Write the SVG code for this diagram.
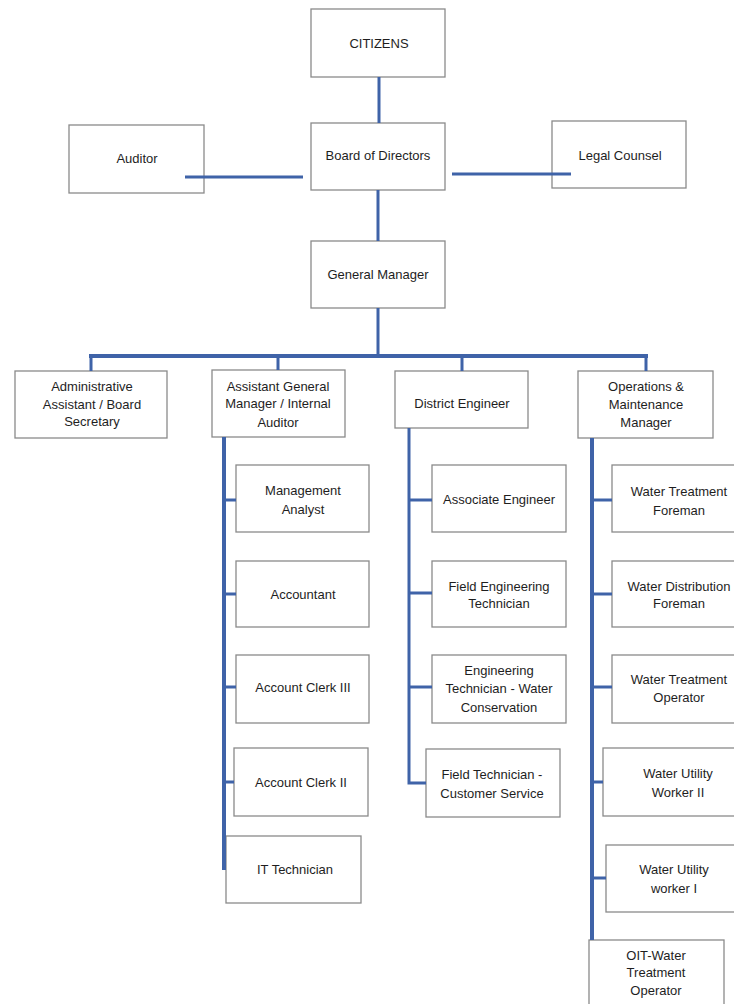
<svg xmlns="http://www.w3.org/2000/svg" width="734" height="1004" viewBox="0 0 734 1004">
<style>
.box{fill:#ffffff;stroke:#8a8a8a;stroke-width:1.3}
.t{font-family:"Liberation Sans",Arial,sans-serif;font-size:13px;fill:#1e1e1e;text-anchor:middle}
.ln{stroke:#3f63a8;stroke-width:3;fill:none}
.bus{stroke:#3f63a8;stroke-width:4;fill:none}
</style>
<rect width="734" height="1004" fill="#ffffff"/>
<g id="citizens"><rect class="box" x="311" y="9" width="134" height="68"/><text class="t" x="379" y="48">CITIZENS</text></g>
<g id="board"><rect class="box" x="311" y="123" width="134" height="67"/><text class="t" x="378" y="160">Board of Directors</text></g>
<g id="auditor"><rect class="box" x="69" y="125" width="135" height="68"/><text class="t" x="137" y="163">Auditor</text></g>
<g id="legal"><rect class="box" x="552" y="121" width="134" height="67"/><text class="t" x="620" y="160">Legal Counsel</text></g>
<g id="gm"><rect class="box" x="311" y="241" width="134" height="67"/><text class="t" x="378" y="279">General Manager</text></g>
<g id="admin"><rect class="box" x="15" y="371" width="152" height="67"/><text class="t" x="92" y="391">Administrative</text><text class="t" x="92" y="409">Assistant / Board</text><text class="t" x="92" y="426">Secretary</text></g>
<g id="agm"><rect class="box" x="212" y="370" width="133" height="67"/><text class="t" x="278" y="391">Assistant General</text><text class="t" x="278" y="408">Manager / Internal</text><text class="t" x="278" y="427">Auditor</text></g>
<g id="district"><rect class="box" x="395" y="371" width="133" height="57"/><text class="t" x="462" y="408">District Engineer</text></g>
<g id="ops"><rect class="box" x="578" y="371" width="135" height="67"/><text class="t" x="646" y="391">Operations &amp;</text><text class="t" x="646" y="409">Maintenance</text><text class="t" x="646" y="427">Manager</text></g>
<g id="mgmt-analyst"><rect class="box" x="236" y="465" width="133" height="67"/><text class="t" x="303" y="495">Management</text><text class="t" x="303" y="514">Analyst</text></g>
<g id="accountant"><rect class="box" x="236" y="561" width="133" height="66"/><text class="t" x="303" y="599">Accountant</text></g>
<g id="clerk3"><rect class="box" x="236" y="655" width="133" height="68"/><text class="t" x="303" y="692">Account Clerk III</text></g>
<g id="clerk2"><rect class="box" x="234" y="748" width="134" height="68"/><text class="t" x="301" y="787">Account Clerk II</text></g>
<g id="it"><rect class="box" x="226" y="836" width="135" height="67"/><text class="t" x="295" y="874">IT Technician</text></g>
<g id="assoc-eng"><rect class="box" x="432" y="465" width="134" height="67"/><text class="t" x="499" y="504">Associate Engineer</text></g>
<g id="field-eng"><rect class="box" x="432" y="561" width="134" height="66"/><text class="t" x="499" y="591">Field Engineering</text><text class="t" x="499" y="608">Technician</text></g>
<g id="eng-tech"><rect class="box" x="432" y="655" width="134" height="68"/><text class="t" x="499" y="675">Engineering</text><text class="t" x="499" y="693">Technician - Water</text><text class="t" x="499" y="712">Conservation</text></g>
<g id="field-tech"><rect class="box" x="426" y="749" width="134" height="68"/><text class="t" x="492" y="779">Field Technician -</text><text class="t" x="492" y="798">Customer Service</text></g>
<g id="wt-foreman"><rect class="box" x="612" y="465" width="134" height="67"/><text class="t" x="679" y="496">Water Treatment</text><text class="t" x="679" y="515">Foreman</text></g>
<g id="wd-foreman"><rect class="box" x="612" y="561" width="134" height="66"/><text class="t" x="679" y="591">Water Distribution</text><text class="t" x="679" y="608">Foreman</text></g>
<g id="wt-operator"><rect class="box" x="612" y="655" width="134" height="68"/><text class="t" x="679" y="684">Water Treatment</text><text class="t" x="679" y="702">Operator</text></g>
<g id="wu-worker2"><rect class="box" x="603" y="748" width="150" height="68"/><text class="t" x="678" y="778">Water Utility</text><text class="t" x="678" y="797">Worker II</text></g>
<g id="wu-worker1"><rect class="box" x="606" y="845" width="145" height="67"/><text class="t" x="674" y="874">Water Utility</text><text class="t" x="674" y="893">worker I</text></g>
<g id="oit"><rect class="box" x="589" y="940" width="135" height="80"/><text class="t" x="656" y="960">OIT-Water</text><text class="t" x="656" y="977">Treatment</text><text class="t" x="656" y="995">Operator</text></g>
<g id="connectors">
<line class="ln" x1="379" y1="77" x2="379" y2="123"/>
<line class="ln" x1="185" y1="177" x2="303" y2="177"/>
<line class="ln" x1="452" y1="174" x2="571" y2="174"/>
<line class="ln" x1="378" y1="190" x2="378" y2="241"/>
<line class="ln" x1="378" y1="308" x2="378" y2="356"/>
<line class="bus" x1="89" y1="356" x2="648" y2="356"/>
<line class="ln" x1="91" y1="356" x2="91" y2="371"/>
<line class="ln" x1="278" y1="356" x2="278" y2="370"/>
<line class="ln" x1="462" y1="356" x2="462" y2="371"/>
<line class="ln" x1="646" y1="356" x2="646" y2="371"/>
<line class="bus" x1="224" y1="437" x2="224" y2="870"/>
<line class="ln" x1="224" y1="500" x2="236" y2="500"/>
<line class="ln" x1="224" y1="594" x2="236" y2="594"/>
<line class="ln" x1="224" y1="687" x2="236" y2="687"/>
<line class="ln" x1="224" y1="782" x2="234" y2="782"/>
<path class="ln" d="M409 428 V783 H426"/>
<line class="ln" x1="409" y1="500" x2="432" y2="500"/>
<line class="ln" x1="409" y1="593" x2="432" y2="593"/>
<line class="ln" x1="409" y1="687" x2="432" y2="687"/>
<line class="bus" x1="592" y1="438" x2="592" y2="940"/>
<line class="ln" x1="592" y1="500" x2="612" y2="500"/>
<line class="ln" x1="592" y1="594" x2="612" y2="594"/>
<line class="ln" x1="592" y1="687" x2="612" y2="687"/>
<line class="ln" x1="592" y1="782" x2="603" y2="782"/>
<line class="ln" x1="592" y1="878" x2="606" y2="878"/>
</g>
</svg>
